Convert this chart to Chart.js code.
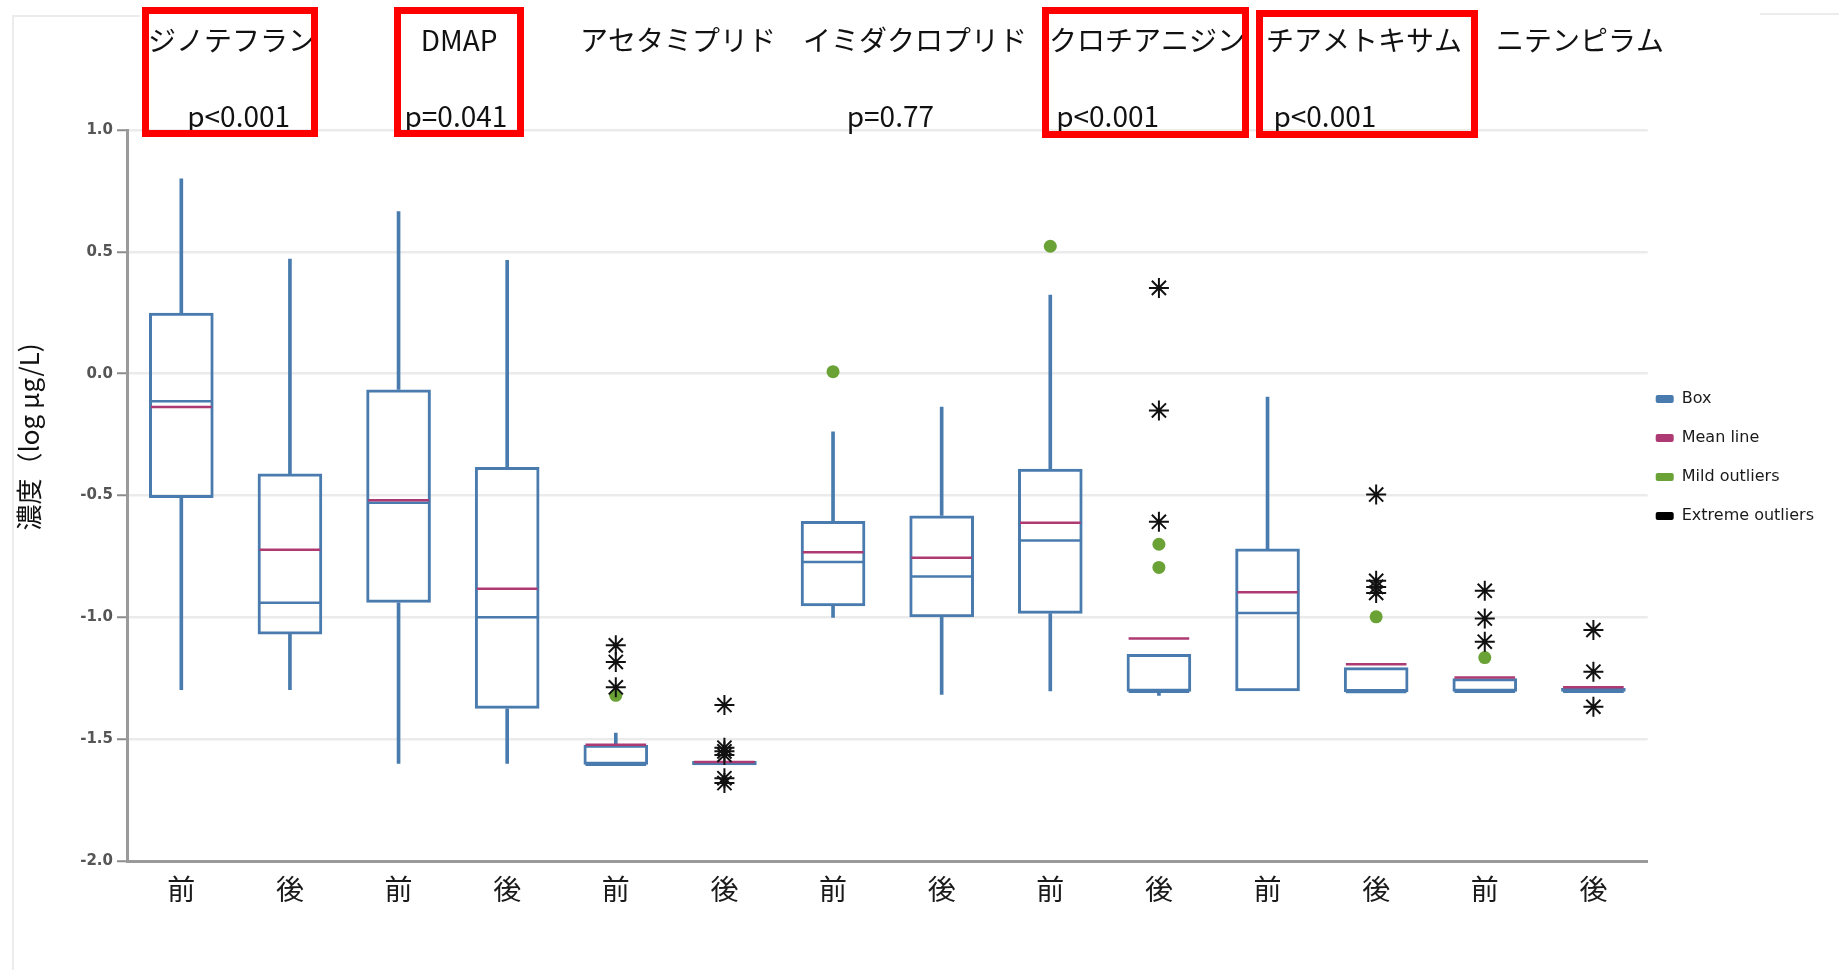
<!DOCTYPE html>
<html lang="ja">
<head>
<meta charset="utf-8">
<title>濃度 前後比較</title>
<script src="https://cdn.jsdelivr.net/npm/chart.js@4.4.1/dist/chart.umd.min.js"></script>
<style>
  html, body { margin: 0; padding: 0; background: #fff; }
  canvas { display: block; }
</style>
</head>
<body>
<canvas id="chart" width="1839" height="970"></canvas>
<script>
// data (log µg/L)
const drugs = ['ジノテフラン', 'DMAP', 'アセタミプリド', 'イミダクロプリド', 'クロチアニジン', 'チアメトキサム', 'ニテンピラム'];
const pValues = ['p<0.001', 'p=0.041', '', 'p=0.77', 'p<0.001', 'p<0.001', ''];
const highlighted = [0, 1, 4, 5];
const labels = drugs.flatMap(() => ['前', '後']);

const whiskerHigh = [0.80, 0.47, 0.665, 0.465, -1.475, -1.59, -0.239, -0.137, 0.323, -1.15, -0.096, -1.205, -1.25, -1.29];
const q3 = [0.25, -0.41, -0.065, -0.383, -1.523, -1.59, -0.605, -0.582, -0.39, -1.15, -0.718, -1.205, -1.25, -1.29];
const median = [-0.113, -0.94, -0.53, -1.0, -1.605, -1.60, -0.773, -0.832, -0.685, -1.305, -0.982, -1.306, -1.305, -1.305];
const mean = [-0.137, -0.723, -0.52, -0.883, -1.523, -1.594, -0.733, -0.755, -0.612, -1.087, -0.897, -1.193, -1.247, -1.287];
const q1 = [-0.51, -1.07, -0.94, -1.375, -1.605, -1.607, -0.955, -1.0, -0.985, -1.305, -1.303, -1.306, -1.305, -1.305];
const whiskerLow = [-1.297, -1.297, -1.60, -1.60, -1.605, -1.607, -1.0, -1.316, -1.302, -1.32, -1.303, -1.306, -1.305, -1.305];

// [category index, value]
const mildOutliers = [[4, -1.32], [6, 0.008], [8, 0.523], [9, -0.70], [9, -0.795], [11, -0.998], [12, -1.165]];
const extremeOutliers = [
  [4, -1.115], [4, -1.183], [4, -1.287],
  [5, -1.36], [5, -1.535], [5, -1.55], [5, -1.565], [5, -1.66], [5, -1.68],
  [9, 0.352], [9, -0.151], [9, -0.608],
  [11, -0.496], [11, -0.85], [11, -0.875], [11, -0.90],
  [12, -0.891], [12, -1.005], [12, -1.10],
  [13, -1.052], [13, -1.223], [13, -1.367]
];

const legendNames = ['Box', 'Mean line', 'Mild outliers', 'Extreme outliers'];

const BLUE = '#4a7bae';
const MAGENTA = '#ad3a72';
const GREEN = '#6aa236';
const BLACK = '#000000';
const legendColors = [BLUE, MAGENTA, GREEN, BLACK];

// layout of the hand-placed header texts
const headerX = [232, 459, 678, 915, 1147, 1364, 1580];
const redBoxes = [[142, 7, 318, 137], [394, 7, 524, 137], [1042, 7, 1249, 138], [1256, 10, 1478, 138]];

const JP = '"Noto Sans CJK JP", "Noto Sans", sans-serif';
Chart.defaults.font.family = JP;

const annotations = {
  id: 'annotations',
  afterLayout(chart) {
    // pull the legend a bit toward the plot
    const lg = chart.legend;
    lg.left -= 15;
    lg.right -= 15;
  },
  afterDatasetDraw(chart, args) {
    if (args.index !== 0) return;
    const { ctx } = chart;
    const y = chart.scales.y;
    ctx.save();
    ctx.lineWidth = 2.5;
    args.meta.data.forEach((bar, i) => {
      const half = bar.width / 2 - 2;
      ctx.strokeStyle = BLUE;
      ctx.beginPath();
      ctx.moveTo(bar.x - half, y.getPixelForValue(median[i]));
      ctx.lineTo(bar.x + half, y.getPixelForValue(median[i]));
      ctx.stroke();
      ctx.strokeStyle = MAGENTA;
      ctx.beginPath();
      ctx.moveTo(bar.x - half, y.getPixelForValue(mean[i]));
      ctx.lineTo(bar.x + half, y.getPixelForValue(mean[i]));
      ctx.stroke();
    });
    ctx.restore();
  },
  afterDraw(chart) {
    const { ctx } = chart;
    const x = chart.scales.x;
    ctx.save();

    // faint frame of the original screenshot
    ctx.strokeStyle = '#ececec';
    ctx.lineWidth = 2;
    ctx.beginPath();
    ctx.moveTo(13, 970); ctx.lineTo(13, 16); ctx.lineTo(140, 16);
    ctx.moveTo(1760, 14); ctx.lineTo(1839, 14);
    ctx.stroke();

    // y axis title
    ctx.fillStyle = '#111';
    ctx.font = '26px ' + JP;
    ctx.textAlign = 'center';
    ctx.textBaseline = 'middle';
    ctx.translate(29, 437);
    ctx.rotate(-Math.PI / 2);
    ctx.fillText('濃度（log μg/L)', 0, 0);
    ctx.setTransform(1, 0, 0, 1, 0, 0);

    // drug names and p values
    ctx.font = '28px ' + JP;
    drugs.forEach((name, k) => {
      ctx.textBaseline = 'middle';
      ctx.fillText(name, headerX[k], 40);
      if (pValues[k]) {
        const cx = (x.getPixelForValue(2 * k) + x.getPixelForValue(2 * k + 1)) / 2;
        ctx.textBaseline = 'alphabetic';
        ctx.fillText(pValues[k], cx + 3, 127);
      }
    });

    // red highlight frames
    ctx.strokeStyle = '#ff0000';
    ctx.lineWidth = 7;
    highlighted.forEach((k, j) => {
      const [l, t, r, b] = redBoxes[j];
      ctx.strokeRect(l + 3.5, t + 3.5, r - l - 7, b - t - 7);
    });
    ctx.restore();
  }
};

new Chart(document.getElementById('chart'), {
  type: 'bar',
  data: {
    labels: labels,
    datasets: [
      {
        label: 'Box',
        data: q1.map((v, i) => [v, q3[i]]),
        xAxisID: 'x', yAxisID: 'y',
        grouped: false,
        backgroundColor: 'rgba(255,255,255,0)',
        borderColor: BLUE,
        borderWidth: 3,
        borderSkipped: false,
        barPercentage: 0.595,
        categoryPercentage: 1,
        order: 2
      },
      {
        label: 'whisker low',
        data: whiskerLow.map((v, i) => v < q1[i] ? [v, q1[i]] : null),
        xAxisID: 'x', yAxisID: 'y',
        grouped: false,
        barThickness: 3,
        backgroundColor: BLUE,
        borderWidth: 0,
        order: 3
      },
      {
        label: 'whisker high',
        data: whiskerHigh.map((v, i) => v > q3[i] ? [q3[i], v] : null),
        xAxisID: 'x', yAxisID: 'y',
        grouped: false,
        barThickness: 3,
        backgroundColor: BLUE,
        borderWidth: 0,
        order: 3
      },
      {
        type: 'scatter',
        label: 'Mild outliers',
        data: mildOutliers.map(([i, v]) => ({ x: i, y: v })),
        xAxisID: 'xo', yAxisID: 'y',
        pointStyle: 'circle',
        pointRadius: 6.5,
        pointBackgroundColor: GREEN,
        pointBorderWidth: 0,
        order: 1
      },
      {
        type: 'scatter',
        label: 'Extreme outliers',
        data: extremeOutliers.map(([i, v]) => ({ x: i, y: v })),
        xAxisID: 'xo', yAxisID: 'y',
        pointStyle: 'star',
        pointRadius: 10,
        pointBorderColor: '#111',
        pointBorderWidth: 2,
        order: 0
      }
    ]
  },
  options: {
    responsive: false,
    animation: false,
    events: [],
    layout: { padding: { top: 130, left: 0, right: 0, bottom: 0 } },
    scales: {
      x: {
        type: 'category',
        offset: true,
        afterFit: s => { s.height = 109; },
        grid: { display: false, drawTicks: false },
        border: { display: true, color: '#9a9a9a', width: 3 },
        ticks: { color: '#1a1a1a', padding: 12, font: { size: 28 } }
      },
      xo: {
        type: 'linear',
        display: false,
        offset: false,
        grid: { offset: false },
        min: -0.5,
        max: 13.5
      },
      y: {
        min: -2,
        max: 1,
        afterFit: s => { s.width = 127; },
        ticks: {
          stepSize: 0.5,
          padding: 4,
          color: '#555',
          font: { family: 'DejaVu Sans', size: 15, weight: 'bold' },
          callback: v => v.toFixed(1)
        },
        grid: { color: '#ebebeb', lineWidth: 2.5, tickLength: 10, tickColor: '#8c8c8c', tickWidth: 2 },
        border: { color: '#9a9a9a', width: 3 }
      }
    },
    plugins: {
      tooltip: { enabled: false },
      legend: {
        position: 'right',
        align: 'start',
        fullSize: false,
        maxWidth: 192,
        onClick: null,
        title: { display: true, text: '', font: { size: 10 }, padding: { top: 226, bottom: 0 } },
        labels: {
          boxWidth: 18,
          boxHeight: 8,
          padding: 23,
          color: '#1a1a1a',
          font: { family: 'DejaVu Sans', size: 16 },
          generateLabels: () => legendNames.map((t, i) => ({
            text: t,
            fillStyle: legendColors[i],
            strokeStyle: legendColors[i],
            fontColor: '#1a1a1a',
            lineWidth: 0,
            borderRadius: 2,
            hidden: false,
            datasetIndex: i
          }))
        }
      }
    }
  },
  plugins: [annotations]
});
</script>
</body>
</html>
